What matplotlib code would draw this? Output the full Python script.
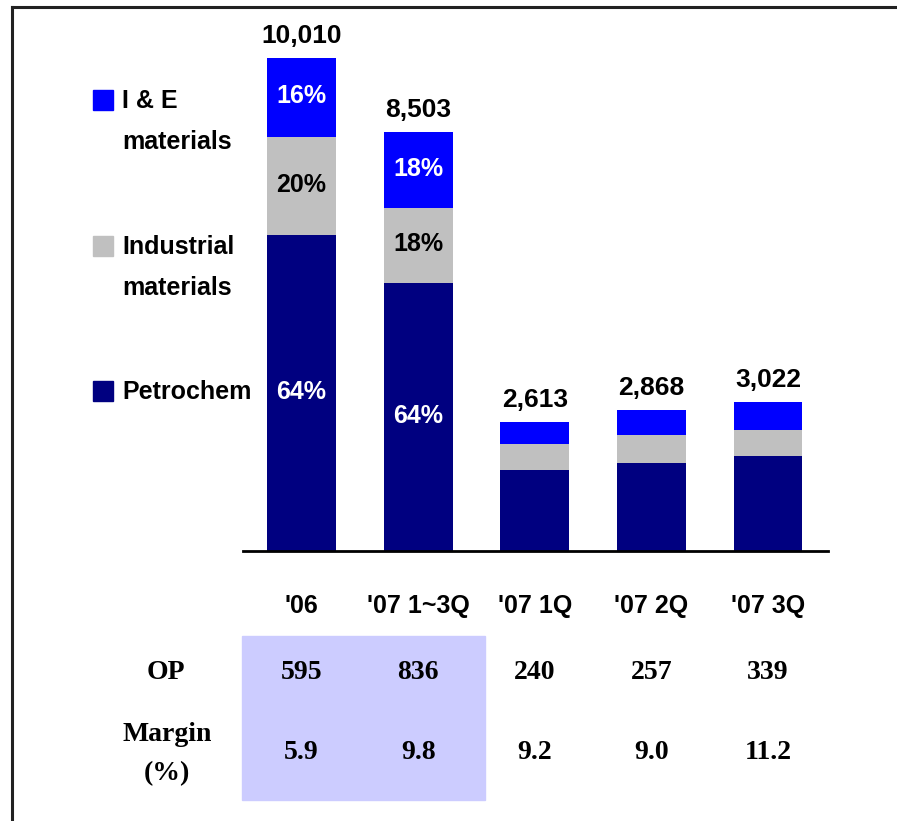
import matplotlib.pyplot as plt
from matplotlib.lines import Line2D
from matplotlib.patches import Rectangle
import matplotlib.transforms as mtransforms

# data
periods = ["'06", "'07 1~3Q", "'07 1Q", "'07 2Q", "'07 3Q"]
totals = [10010, 8503, 2613, 2868, 3022]
petrochem = [6406, 5442, 1646, 1778, 1934]
industrial = [2002, 1530, 522, 574, 514]
ie_materials = [1602, 1531, 445, 516, 574]
share_labels = [("64%", "20%", "16%"), ("64%", "18%", "18%"), None, None, None]
op = ["595", "836", "240", "257", "339"]
margin = ["5.9", "9.8", "9.2", "9.0", "11.2"]

NAVY = "#000080"
GREY = "#C0C0C0"
BLUE = "#0000FF"
SANS = "Liberation Sans"
SERIF = "Liberation Serif"

W, H = 897, 821
fig = plt.figure(figsize=(W / 100, H / 100), dpi=100)

# bar axes: baseline at y=551px, x from 243px to 828px
ymax = 11000
px_per_unit = 493 / 10010
ax = fig.add_axes([243 / W, 1 - 551 / H, 585 / W, ymax * px_per_unit / H])
x = list(range(len(periods)))
bw = 0.59
ax.bar(x, petrochem, bw, color=NAVY)
ax.bar(x, industrial, bw, bottom=petrochem, color=GREY)
bottoms = [p + i for p, i in zip(petrochem, industrial)]
ax.bar(x, ie_materials, bw, bottom=bottoms, color=BLUE)
ax.set_xlim(-0.502, 4.515)
ax.set_ylim(0, ymax)

for s in ["top", "right", "left"]:
    ax.spines[s].set_visible(False)
ax.spines["bottom"].set_linewidth(2)
ax.set_yticks([])
ax.set_xticks(x)
ax.set_xticklabels(periods, fontsize=18, fontweight="bold", family=SANS)
ax.tick_params(axis="x", length=0, pad=31)

for i in x:
    ax.text(i, totals[i] + 200, f"{totals[i]:,}", ha="center", va="bottom",
            fontsize=19, fontweight="bold", family=SANS)
    if share_labels[i]:
        segs = [(0, petrochem[i]), (petrochem[i], industrial[i]),
                (bottoms[i], ie_materials[i])]
        colors = ["white", "black", "white"]
        for (b, h), lab, c in zip(segs, share_labels[i], colors):
            ax.text(i, b + h / 2 + 20, lab, ha="center", va="center",
                    fontsize=18, fontweight="bold", family=SANS, color=c)

# legend drawn by hand on the left
legend_items = [("I & E\nmaterials", BLUE, 100),
                ("Industrial\nmaterials", GREY, 246),
                ("Petrochem", NAVY, 391)]
for label, col, ypx in legend_items:
    fig.patches.append(Rectangle((93 / W, 1 - (ypx + 10) / H), 20 / W, 20 / H,
                                 transform=fig.transFigure, color=col))
    fig.text(122 / W, 1 - (ypx - 11) / H, label, ha="left", va="top",
             fontsize=18, fontweight="bold", family=SANS, linespacing=1.88)

# OP / margin table below, columns follow the bar positions
trans = mtransforms.blended_transform_factory(ax.transData, fig.transFigure)
fig.patches.append(Rectangle((-0.51, 1 - 800 / H), 2.08, 164 / H,
                             transform=trans, color="#CCCCFF", zorder=0))
for i in x:
    fig.text(i, 1 - 672 / H, op[i], transform=trans, ha="center", va="center",
             fontsize=20, fontweight="bold", family=SERIF)
    fig.text(i, 1 - 752 / H, margin[i], transform=trans, ha="center",
             va="center", fontsize=20, fontweight="bold", family=SERIF)
fig.text(166 / W, 1 - 672 / H, "OP", ha="center", va="center",
         fontsize=20, fontweight="bold", family=SERIF)
fig.text(167 / W, 1 - 754 / H, "Margin\n(%)", ha="center", va="center",
         fontsize=20, fontweight="bold", family=SERIF, linespacing=1.7)

# frame lines (top and left)
fig.lines.append(Line2D([12 / W, 1], [1 - 7 / H, 1 - 7 / H],
                        transform=fig.transFigure, color="#222222", lw=2.2))
fig.lines.append(Line2D([12 / W, 12 / W], [0, 1 - 7 / H],
                        transform=fig.transFigure, color="#222222", lw=2.2))

fig.savefig("out.png", dpi=100)
